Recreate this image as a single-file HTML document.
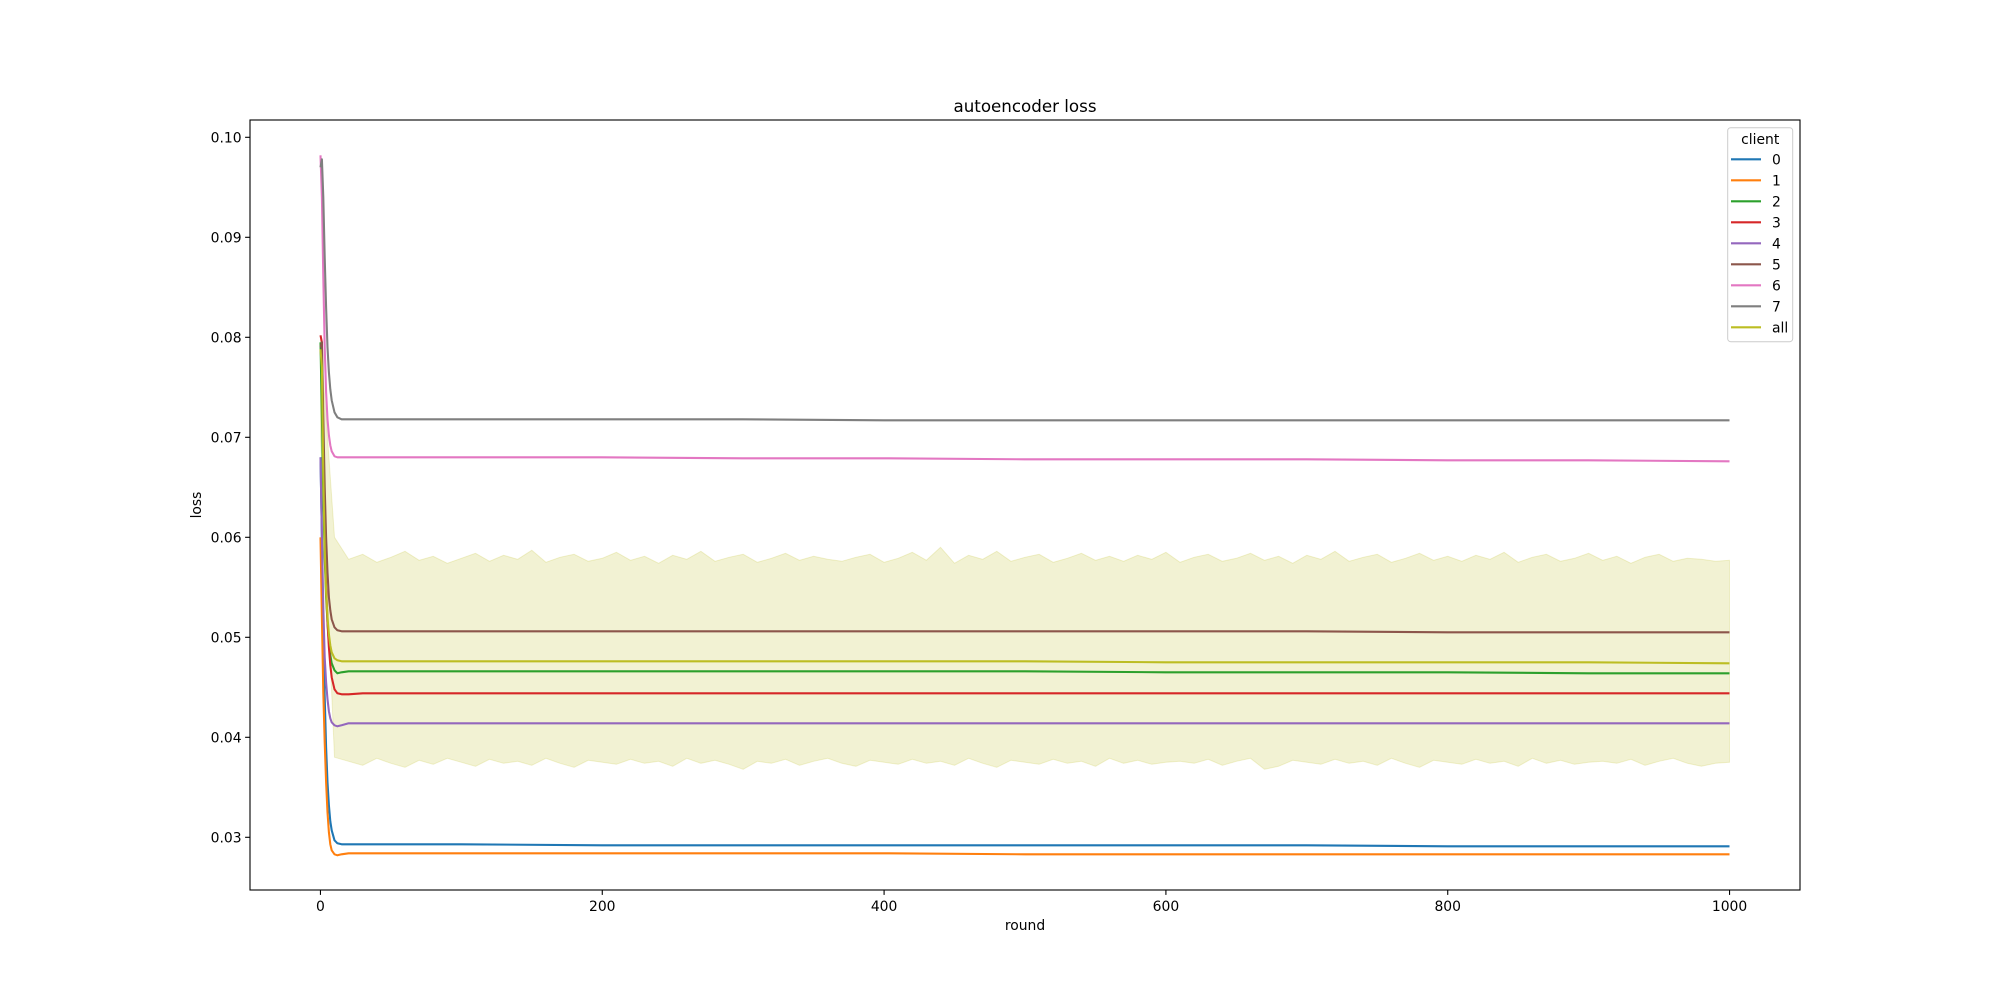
<!DOCTYPE html>
<html><head><meta charset="utf-8"><style>
html,body{margin:0;padding:0;background:#fff;}
svg{display:block;font-family:"DejaVu Sans","Liberation Sans",sans-serif;}
</style></head><body>
<svg id="chart" width="2000" height="1000" viewBox="0 0 2000 1000" xmlns="http://www.w3.org/2000/svg">
<rect width="2000" height="1000" fill="#fff"/>
<text x="1025" y="112" font-size="16.7" text-anchor="middle">autoencoder loss</text>
<text x="1025" y="930" font-size="13.9" text-anchor="middle">round</text>
<text x="201" y="505" font-size="13.9" text-anchor="middle" transform="rotate(-90 201 505)">loss</text>
<g id="plot"></g>
<g id="axes"></g>
<g id="legend"></g>
</svg>
<script>
const rounds = [0,1,2,3,4,5,6,7,8,10,12,15,20,30,100,200,300,400,500,600,700,800,900,1000];
const s0 = [.068,.060,.050,.044,.0390,.0355,.0332,.0316,.0307,.0297,.0294,.0293,.0293,.0293,.0293,.0292,.0292,.0292,.0292,.0292,.0292,.0291,.0291,.0291];
const s1 = [.060,.052,.0445,.0395,.0355,.0325,.0305,.0293,.0287,.0283,.0282,.0283,.0284,.0284,.0284,.0284,.0284,.0284,.0283,.0283,.0283,.0283,.0283,.0283];
const s2 = [.0795,.072,.064,.058,.054,.0515,.0495,.0482,.0474,.0467,.0464,.0465,.0466,.0466,.0466,.0466,.0466,.0466,.0466,.0465,.0465,.0465,.0464,.0464];
const s3 = [.0802,.0795,.068,.060,.055,.0515,.049,.0472,.0460,.0448,.0444,.0443,.0443,.0444,.0444,.0444,.0444,.0444,.0444,.0444,.0444,.0444,.0444,.0444];
const s4 = [.068,.060,.053,.048,.0455,.0438,.0426,.0419,.0415,.0412,.0411,.0412,.0414,.0414,.0414,.0414,.0414,.0414,.0414,.0414,.0414,.0414,.0414,.0414];
const s5 = [.079,.0795,.072,.065,.060,.0565,.054,.0527,.0518,.0510,.0507,.0506,.0506,.0506,.0506,.0506,.0506,.0506,.0506,.0506,.0506,.0505,.0505,.0505];
const s6 = [.0982,.094,.086,.079,.0745,.0718,.0702,.0692,.0686,.0681,.0680,.0680,.0680,.0680,.0680,.0680,.0679,.0679,.0678,.0678,.0678,.0677,.0677,.0676];
const s7 = [.097,.0978,.094,.088,.083,.079,.0765,.0748,.0737,.0725,.0720,.0718,.0718,.0718,.0718,.0718,.0718,.0717,.0717,.0717,.0717,.0717,.0717,.0717];
const sAll = [.0788,.0770,.066,.059,.0545,.052,.0503,.0492,.0485,.0479,.0477,.0476,.0476,.0476,.0476,.0476,.0476,.0476,.0476,.0475,.0475,.0475,.0475,.0474];
const seriesNames = ["0","1","2","3","4","5","6","7","all"];
const bandUpper = [.080,.0600,.0578,.0583,.0575,.0580,.0586,.0577,.0581,.0574,.0579,.0584,.0576,.0582,.0578,.0587,.0575,.0580,.0583,.0576,.0579,.0585,.0577,.0581,.0574,.0582,.0578,.0586,.0576,.0580,.0583,.0575,.0579,.0584,.0577,.0581,.0578,.0576,.0580,.0583,.0575,.0579,.0585,.0577,.0590,.0574,.0582,.0578,.0586,.0576,.0580,.0583,.0575,.0579,.0584,.0577,.0581,.0576,.0582,.0578,.0585,.0575,.0580,.0583,.0576,.0579,.0584,.0577,.0581,.0574,.0582,.0578,.0586,.0576,.0580,.0583,.0575,.0579,.0584,.0577,.0581,.0576,.0582,.0578,.0585,.0575,.0580,.0583,.0576,.0579,.0584,.0577,.0581,.0574,.0580,.0583,.0576,.0579,.0578,.0576,.0577];
const bandLower = [.070,.0380,.0376,.0372,.0379,.0374,.0370,.0377,.0373,.0379,.0375,.0371,.0378,.0374,.0376,.0372,.0379,.0374,.0370,.0377,.0375,.0373,.0378,.0374,.0376,.0371,.0379,.0374,.0377,.0373,.0368,.0376,.0374,.0378,.0372,.0376,.0379,.0374,.0371,.0377,.0375,.0373,.0378,.0374,.0376,.0372,.0379,.0374,.0370,.0377,.0375,.0373,.0378,.0374,.0376,.0371,.0379,.0374,.0377,.0373,.0375,.0376,.0374,.0378,.0372,.0376,.0379,.0368,.0371,.0377,.0375,.0373,.0378,.0374,.0376,.0372,.0379,.0374,.0370,.0377,.0375,.0373,.0378,.0374,.0376,.0371,.0379,.0374,.0377,.0373,.0375,.0376,.0374,.0378,.0372,.0376,.0379,.0374,.0371,.0374,.0375];
const xTicks = [0,200,400,600,800,1000];
const yTicks = [0.03,0.04,0.05,0.06,0.07,0.08,0.09,0.10];
const yTickLabels = ["0.03","0.04","0.05","0.06","0.07","0.08","0.09","0.10"];

const colors = ["#1f77b4","#ff7f0e","#2ca02c","#d62728","#9467bd","#8c564b","#e377c2","#7f7f7f","#bcbd22"];
const L=250,R=1800,T=120,B=890;
const xs = v => L + (v - (-50)) * (R - L) / 1100;
const ys = v => 137.3 + (0.10 - v) * 10000;
const NS="http://www.w3.org/2000/svg";
function mk(tag, attrs, parent){const e=document.createElementNS(NS,tag);for(const k in attrs)e.setAttribute(k,attrs[k]);parent.appendChild(e);return e;}
const plot=document.getElementById('plot'), axes=document.getElementById('axes'), leg=document.getElementById('legend');

// band
const n=bandUpper.length;
let d='';
for(let i=0;i<n;i++){const r=i*1000/(n-1);d+=(i?'L':'M')+xs(r).toFixed(1)+','+ys(bandUpper[i]).toFixed(1);}
for(let i=n-1;i>=0;i--){const r=i*1000/(n-1);d+='L'+xs(r).toFixed(1)+','+ys(bandLower[i]).toFixed(1);}
const band=mk('path',{d:d+'Z',fill:'#bcbd22','fill-opacity':'0.2',stroke:'#bcbd22','stroke-opacity':'0.2','stroke-width':'1'},plot);



const series=[s0,s1,s2,s3,s4,s5,s6,s7,sAll];
series.forEach((s,k)=>{
  const pts=s.map((v,i)=>xs(rounds[i]).toFixed(1)+','+ys(v).toFixed(1)).join(' ');
  const pl=mk('polyline',{points:pts,fill:'none',stroke:colors[k],'stroke-width':'2.08','stroke-linejoin':'round'},plot);
  
  
});

// axes frame
const fr=mk('rect',{x:L,y:T,width:R-L,height:B-T,fill:'none',stroke:'#000','stroke-width':'1.1'},axes);


xTicks.forEach(t=>{
  const x=xs(t);
  const tk=mk('line',{x1:x,x2:x,y1:B,y2:B+4.9,stroke:'#000','stroke-width':'1.1'},axes);
  
  
  const tx=mk('text',{x:x,y:B+21,'font-size':'13.9','text-anchor':'middle'},axes);
  tx.textContent=String(t);
  
  
});
yTicks.forEach((t,i)=>{
  const y=ys(t);
  const tk=mk('line',{x1:L-4.9,x2:L,y1:y,y2:y,stroke:'#000','stroke-width':'1.1'},axes);
  
  
  const tx=mk('text',{x:L-8.4,y:y+5,'font-size':'13.9','text-anchor':'end'},axes);
  tx.textContent=yTickLabels[i];
  
  
});

// legend
const lb=mk('rect',{x:1727.7,y:127.7,width:65,height:214,rx:3,fill:'#fff','fill-opacity':'0.8',stroke:'#cccccc','stroke-width':'1'},leg);


const lt=mk('text',{x:1760.2,y:144,'font-size':'13.9','text-anchor':'middle'},leg);
lt.textContent='client';


seriesNames.forEach((nm,k)=>{
  const y=159.3+21*k;
  const g=mk('g',{},leg);
  
  
  mk('line',{x1:1731,x2:1761,y1:y,y2:y,stroke:colors[k],'stroke-width':'2.08'},g);
  const t=mk('text',{x:1772,y:y+5,'font-size':'13.9'},g);
  t.textContent=nm;
});
</script>
</body></html>
